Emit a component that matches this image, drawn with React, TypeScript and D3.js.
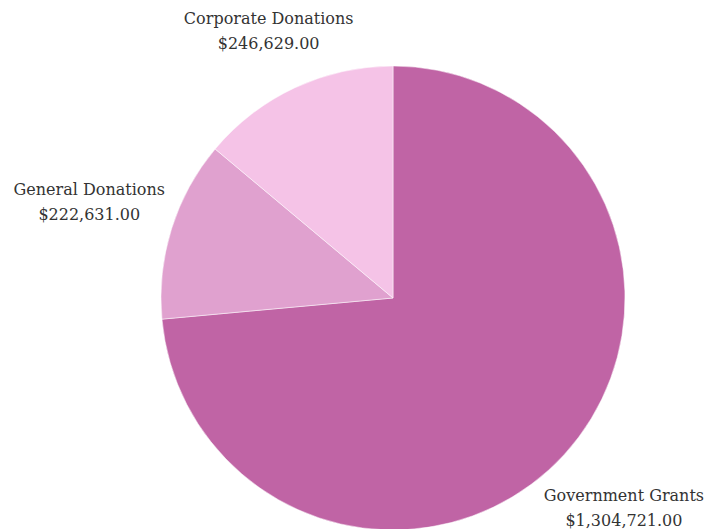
import React, { useEffect } from "react";
import { pie, arc, PieArcDatum } from "d3";

const categories = ["Government Grants", "General Donations", "Corporate Donations"];
const amounts = [1304721, 222631, 246629];
const colors = ["#c064a5", "#e0a1cf", "#f5c3e7"];

const width = 709;
const height = 529;
const cx = 393;
const cy = 298;
const radius = 232;
const labelGap = 8;
const lineGap = 25;
const fontSize = 16;
const fontFamily = "'DejaVu Serif', serif";

const fmt = (v: number) =>
  "$" + v.toLocaleString("en-US", { minimumFractionDigits: 2, maximumFractionDigits: 2 });

let ctx: CanvasRenderingContext2D | null = null;
const textWidth = (t: string) => {
  if (!ctx) ctx = document.createElement("canvas").getContext("2d");
  if (!ctx) return t.length * fontSize * 0.55;
  ctx.font = `${fontSize}px ${fontFamily}`;
  return ctx.measureText(t).width;
};

const App: React.FC = () => {
  useEffect(() => {
    document.body.style.margin = "0";
  }, []);

  const data = categories.map((c, i) => ({ name: c, value: amounts[i], color: colors[i] }));
  const slices = pie<any>().value((d: any) => d.value).sort(null)(data);
  const arcGen = arc<PieArcDatum<any>>().innerRadius(0).outerRadius(radius);

  return (
    <svg width={width} height={height} style={{ display: "block" }}>
      <g transform={`translate(${cx},${cy})`}>
        {slices.map((s) => (
          <path key={s.data.name} d={arcGen(s) || ""} fill={s.data.color} stroke="#fff" strokeWidth={0.5} />
        ))}
        {slices.map((s) => {
          const a = (s.startAngle + s.endAngle) / 2;
          const dx = Math.sin(a);
          const dy = -Math.cos(a);
          const w = Math.max(textWidth(s.data.name), textWidth(fmt(s.data.value)));
          const h = 40;
          // push the label block out along the slice's middle until it clears the pie
          const extent = Math.abs(dx) * w / 2 + Math.abs(dy) * h / 2;
          const R = radius + labelGap + extent;
          const x = dx * R;
          const yc = dy * R;
          return (
            <text
              key={"l" + s.data.name}
              x={x}
              y={yc - 8}
              textAnchor="middle"
              fontFamily={fontFamily}
              fontSize={fontSize}
              fill="#333"
            >
              <tspan x={x} y={yc - 8}>{s.data.name}</tspan>
              <tspan x={x} dy={lineGap}>{fmt(s.data.value)}</tspan>
            </text>
          );
        })}
      </g>
    </svg>
  );
};

export default App;
